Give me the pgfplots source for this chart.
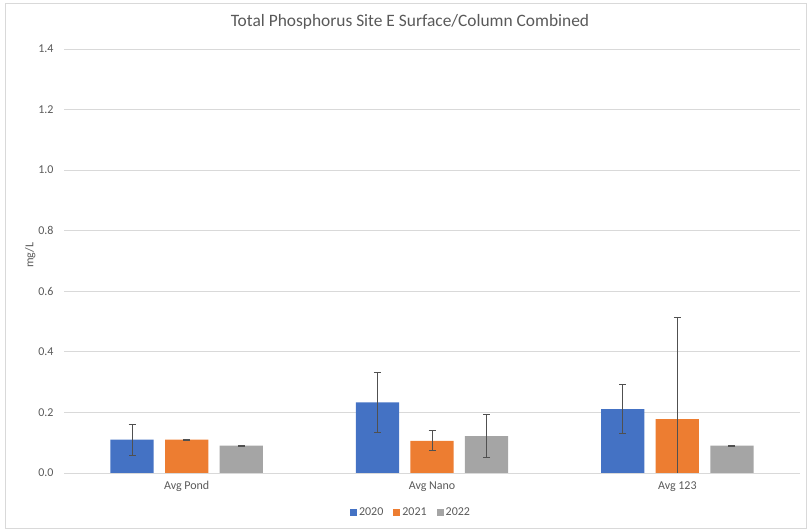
\documentclass[border=0pt]{standalone}
\usepackage{pgfplots}
\pgfplotsset{compat=1.18}
\usepackage{pgfplotstable}
\usepackage{fontspec}
\setmainfont{Carlito}
\definecolor{cA}{HTML}{4472C4}
\definecolor{cB}{HTML}{ED7D31}
\definecolor{cC}{HTML}{A5A5A5}
\definecolor{txt}{HTML}{595959}
\definecolor{gridc}{HTML}{D9D9D9}
\definecolor{errc}{HTML}{505050}

\pgfplotstableread{
x y e
0 0.110 0.051
1 0.233 0.099
2 0.211 0.080
}\dA
\pgfplotstableread{
x y e
0 0.110 0.002
1 0.106 0.033
2 0.178 0.336
}\dB
\pgfplotstableread{
x y e
0 0.090 0.002
1 0.122 0.071
2 0.090 0.002
}\dC

\begin{document}
\begin{tikzpicture}
\path[use as bounding box] (0pt,0pt) rectangle (807pt,529pt);
\draw[gridc, line width=0.8pt] (5.5pt,1pt) rectangle (806pt,526pt);
\node[font=\fontsize{17.4}{21}\selectfont, text=txt] at (410pt,507pt) {Total Phosphorus Site E Surface/Column Combined};
\begin{axis}[
  at={(64pt,56pt)}, anchor=south west,
  scale only axis, width=736pt, height=424pt,
  ybar, bar width=0.176,
  xmin=-0.5, xmax=2.5, ymin=0, ymax=1.4,
  xtick={0,1,2}, xticklabels={Avg Pond, Avg Nano, Avg 123},
  ytick={0,0.2,0.4,0.6,0.8,1.0,1.2,1.4},
  /pgf/number format/fixed, /pgf/number format/fixed zerofill, /pgf/number format/precision=1,
  /pgf/number format/assume math mode=true,
  yticklabel style={xshift=-7pt},
  xticklabel style={yshift=-5pt},
  axis line style={draw=none},
  major tick length=0pt,
  ymajorgrids, grid style={gridc, line width=0.9pt},
  tick label style={font=\fontsize{12}{14}\selectfont, text=txt},
  ylabel={mg/L},
  every axis y label/.style={at={(axis description cs:-0.046,0.514)}, rotate=90, anchor=center, font=\fontsize{12}{14}\selectfont, text=txt},
  legend columns=3,
  legend style={draw=none, fill=none, at={(axis description cs:0.4715,-0.094)}, anchor=center, font=\fontsize{12}{14}\selectfont, text=txt, /tikz/every even column/.append style={column sep=8pt}},
  legend image code/.code={\fill[#1] (0pt,-3.5pt) rectangle (7pt,3.5pt);},
  error bars/y dir=both, error bars/y explicit,
  error bars/error bar style={errc, line width=0.9pt},
  error bars/error mark options={rotate=90, mark size=3.5pt, errc, line width=0.9pt},
]
\addplot[fill=cA, draw=none, bar shift=-0.2225] table[x=x, y=y, y error=e] {\dA};
\addplot[fill=cB, draw=none, bar shift=0] table[x=x, y=y, y error=e] {\dB};
\addplot[fill=cC, draw=none, bar shift=0.2225] table[x=x, y=y, y error=e] {\dC};
\legend{2020, 2021, 2022}
\end{axis}
\end{tikzpicture}
\end{document}
